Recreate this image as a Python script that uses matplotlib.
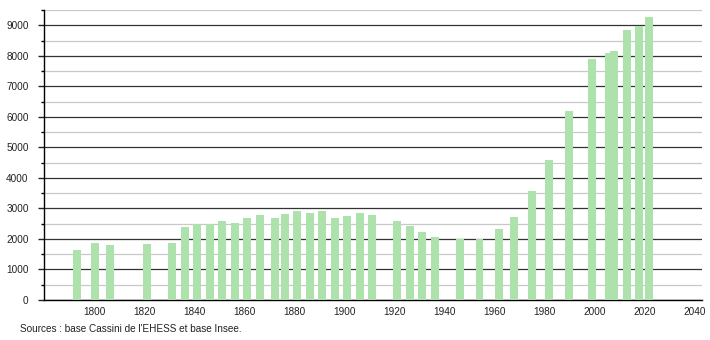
import numpy as np
import matplotlib
matplotlib.use("Agg")
import matplotlib.pyplot as plt
from matplotlib.ticker import MultipleLocator

plt.rcParams['font.family'] = ['Liberation Sans', 'DejaVu Sans']

# census years and population
years = [1793, 1800, 1806, 1821, 1831, 1836, 1841, 1846, 1851, 1856,
         1861, 1866, 1872, 1876, 1881, 1886, 1891, 1896, 1901, 1906,
         1911, 1921, 1926, 1931, 1936, 1946, 1954, 1962, 1968, 1975,
         1982, 1990, 1999, 2006, 2008, 2013, 2018, 2022]
population = [1650, 1875, 1810, 1840, 1880, 2380, 2500, 2500, 2600, 2530,
              2700, 2800, 2700, 2830, 2930, 2860, 2920, 2690, 2760, 2855,
              2795, 2600, 2430, 2230, 2070, 2000, 2000, 2330, 2720, 3580,
              4600, 6180, 7880, 8080, 8150, 8840, 8980, 9260]
source = "Sources : base Cassini de l'EHESS et base Insee."

fig = plt.figure(figsize=(7.1, 3.4), dpi=100)
ax = fig.add_axes([44/710, 1 - 300/340, (702 - 44)/710, 290/340])

ax.bar(years, population, width=3.2, color='#ade2ad', zorder=3)

ax.set_xlim(1779.6, 2043.1)
ax.set_ylim(0, 9500)
ax.xaxis.set_major_locator(MultipleLocator(20))
ax.set_xticks(range(1800, 2041, 20))
ax.yaxis.set_major_locator(MultipleLocator(1000))
ax.yaxis.set_minor_locator(MultipleLocator(500))

ax.grid(which='major', axis='y', color='#333333', linewidth=0.9, zorder=1)
ax.grid(which='minor', axis='y', color='#c8c8c8', linewidth=0.9, zorder=1)

for s in ['top', 'right']:
    ax.spines[s].set_visible(False)
ax.spines['left'].set_linewidth(1.0)
ax.spines['bottom'].set_linewidth(1.0)

ax.tick_params(axis='x', length=0, labelsize=7.2, pad=5, colors='#222222')
ax.tick_params(axis='y', which='major', length=4, width=1, labelsize=7.2, pad=7, colors='#222222')
ax.tick_params(axis='y', which='minor', length=2.5, width=1)

fig.text(20/710, 1 - 329/340, source, fontsize=7.2, va='center', ha='left', color='#222222')

fig.savefig('out.png', dpi=100)
